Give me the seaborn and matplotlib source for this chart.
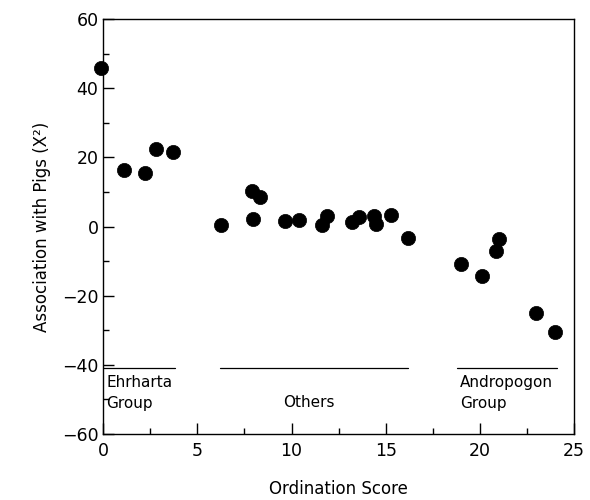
import numpy as np
import pandas as pd
import seaborn as sns
import matplotlib.pyplot as plt
from matplotlib.ticker import MultipleLocator

# ordination score vs association (chi-square) for each species
ordination = [-0.1, 1.1, 2.2, 2.8, 3.7,
              6.25, 7.9, 8.3, 7.95, 9.65, 10.4, 11.6, 11.9, 13.2, 13.6, 14.4, 14.5, 15.3, 16.2,
              19.0, 20.1, 21.0, 20.85, 23.0, 24.0]
association = [45.7, 16.2, 15.5, 22.5, 21.4,
               0.3, 10.4, 8.5, 2.1, 1.7, 1.9, 0.3, 3.1, 1.3, 2.7, 3.1, 0.7, 3.2, -3.4,
               -10.8, -14.3, -3.5, -7.1, -25.0, -30.4]

# group brackets drawn under the points
group_names = ["Ehrharta\nGroup", "Others", "Andropogon\nGroup"]
group_start = [0.0, 6.2, 18.8]
group_end = [3.8, 16.2, 24.1]

df = pd.DataFrame({"score": ordination, "assoc": association})

sns.set_style("ticks")
plt.rcParams['font.family'] = ['DejaVu Sans']
for key in ["text.color", "axes.labelcolor", "xtick.color", "ytick.color", "axes.edgecolor"]:
    plt.rcParams[key] = "black"

fig = plt.figure(figsize=(5.9, 5.0), dpi=100)
ax = fig.add_axes([0.175, 0.132, 0.798, 0.830])

sns.scatterplot(data=df, x="score", y="assoc", s=105, color="black",
                edgecolor="black", linewidth=0.5, ax=ax, zorder=3, clip_on=False)

# group lines and labels
for name, x0, x1 in zip(group_names, group_start, group_end):
    ax.plot([x0, x1], [-41, -41], color="black", linewidth=0.9)
for name, x0, x1 in zip(group_names, group_start, group_end):
    if name == "Others":
        ax.text(10.9, -51, name, ha="center", va="center", fontsize=11)
    else:
        ax.text(x0 + 0.15, -43, name, ha="left", va="top", fontsize=11, linespacing=1.5)

ax.set_xlim(0, 25)
ax.set_ylim(-60, 60)
ax.xaxis.set_major_locator(MultipleLocator(5))
ax.xaxis.set_minor_locator(MultipleLocator(2.5))
ax.yaxis.set_major_locator(MultipleLocator(20))
ax.yaxis.set_minor_locator(MultipleLocator(10))
ax.tick_params(which="major", direction="in", length=8, labelsize=12.5, width=1)
ax.tick_params(which="minor", direction="in", length=4, width=1)
ax.tick_params(axis="x", pad=6)
for sp in ax.spines.values():
    sp.set_linewidth(1)

ax.set_xlabel("Ordination Score", fontsize=12, labelpad=14)
ax.set_ylabel("Association with Pigs (X²)", fontsize=12, labelpad=8)

fig.savefig("out.png", dpi=100)
